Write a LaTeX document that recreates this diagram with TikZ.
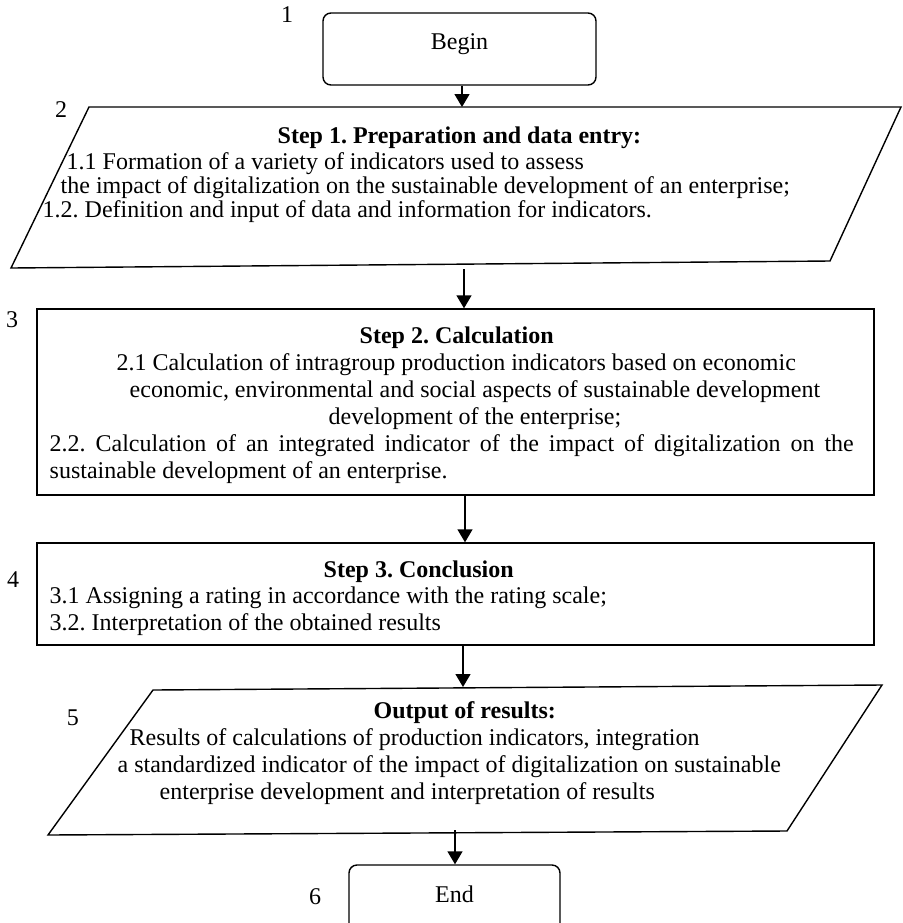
\documentclass[tikz,border=0pt]{standalone}
\usepackage{fontspec}
\setmainfont{Liberation Serif}
\usetikzlibrary{arrows.meta}
\frenchspacing
\begin{document}
\begin{tikzpicture}[x=0.5pt,y=-0.5pt,>={Triangle[length=6.5pt,width=7.5pt]},line width=0.7pt,
    term/.style={draw,rounded corners=4pt,minimum width=#1,minimum height=36pt,text depth=7pt,inner sep=0pt},
    stepbox/.style={draw,minimum width=418.5pt,minimum height=#1,inner sep=0pt},
    txt/.style={anchor=north west,align=left,inner sep=0pt,font=\fontsize{12}{13.5}\selectfont},
    num/.style={inner sep=0pt,font=\fontsize{12}{14}\selectfont}]
\clip (0,0) rectangle (902,923);

\node[term=136.5pt,font=\fontsize{12}{14}\selectfont] (begin) at (459.5,49) {Begin};

% step 1, input
\draw (89,107) -- (901,107) -- (830,261) -- (11,268) -- cycle;
\coordinate (p1top) at (462,107);
\coordinate (p1bot) at (464,269);
\node[txt,font=\fontsize{12}{11}\selectfont] (prep) at (42,126) {\hspace*{117.5pt}\textbf{Step 1. Preparation and data entry:}\\[1pt]
\hspace*{12pt}1.1 Formation of a variety of indicators used to assess\\
\hspace*{9pt}the impact of digitalization on the sustainable development of an enterprise;\\
1.2. Definition and input of data and information for indicators.};

% step 2
\node[stepbox=93pt] (step2) at (455.5,402) {};
\node[txt] (calc) at (49,326) {\hspace*{155pt}\textbf{Step 2. Calculation}\\
\hspace*{33.5pt}2.1 Calculation of intragroup production indicators based on economic\\
\hspace*{40pt}economic, environmental and social aspects of sustainable development\\
\hspace*{139.5pt}development of the enterprise;\\
\hbox to 402pt{2.2. Calculation of an integrated indicator of the impact of digitalization on the}\\
sustainable development of an enterprise.};

% step 3
\node[stepbox=51pt] (step3) at (455.5,594) {};
\node[txt,font=\fontsize{12}{13.25}\selectfont] (concl) at (49,560) {\hspace*{137pt}\textbf{Step 3. Conclusion}\\
3.1 Assigning a rating in accordance with the rating scale;\\
3.2. Interpretation of the obtained results};

% output
\draw (153,690) -- (882,685) -- (787,831) -- (48,835) -- cycle;
\coordinate (p2top) at (463,687);
\coordinate (p2bot) at (455,830);
\node[txt] (out) at (117,701) {\hspace*{128pt}\textbf{Output of results:}\\
\hspace*{6pt}Results of calculations of production indicators, integration\\
a standardized indicator of the impact of digitalization on sustainable\\
\hspace*{21pt}enterprise development and interpretation of results};

\node[term=105.5pt,font=\fontsize{12}{14}\selectfont] (end) at (454.5,901) {End};

\foreach \n/\x/\y in {1/287/15,2/61/110,3/12/320,4/13/580,5/73/718,6/315/897}
{
    \node[num] (n\n) at (\x,\y) {\n};
}

\draw[->] (begin.south -| p1top) -- (p1top);
\draw[->] (p1bot) -- (p1bot |- step2.north);
\draw[->] ([xshift=4.75pt]step2.south) -- ([xshift=4.75pt]step3.north);
\draw[->] (step3.south -| p2top) -- (p2top);
\draw[->] (p2bot) -- (p2bot |- end.north);
\end{tikzpicture}
\end{document}
